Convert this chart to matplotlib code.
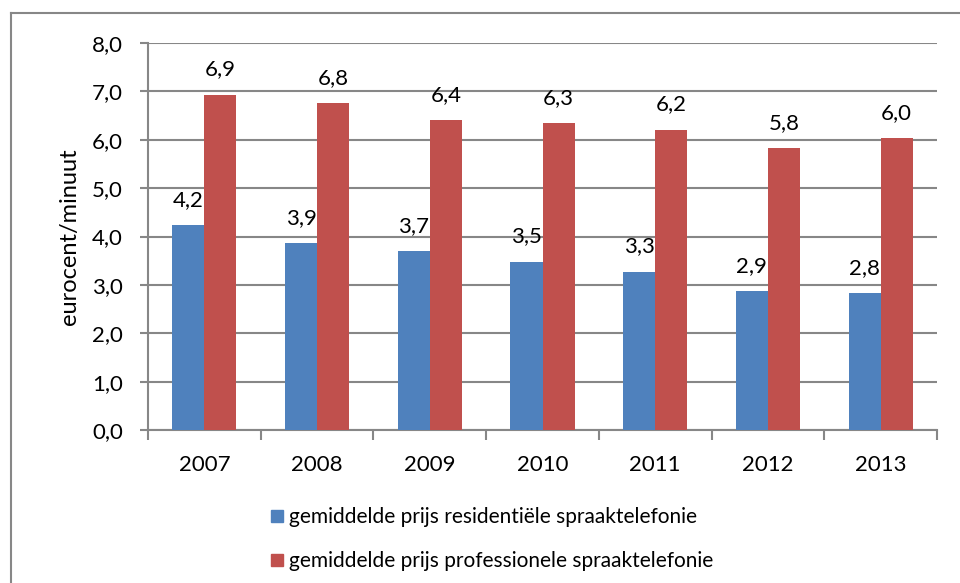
import numpy as np
import matplotlib
matplotlib.use("Agg")
import matplotlib.pyplot as plt
from matplotlib.lines import Line2D
from matplotlib.patches import Patch

plt.rcParams["font.family"] = ["Lato", "DejaVu Sans"]

years = ["2007", "2008", "2009", "2010", "2011", "2012", "2013"]
residentieel = [4.24, 3.86, 3.69, 3.48, 3.27, 2.87, 2.83]
professioneel = [6.93, 6.76, 6.41, 6.34, 6.21, 5.82, 6.03]
labels = [
    "gemiddelde prijs residentiële spraaktelefonie",
    "gemiddelde prijs professionele spraaktelefonie",
]

BLUE = "#4F81BD"
RED = "#C0504D"
GRID = "#878787"


def nl(v):
    return "{:.1f}".format(v).replace(".", ",")


fig = plt.figure(figsize=(9.6, 5.83), dpi=100)
ax = fig.add_axes([148 / 960, 1 - 430 / 583, (937 - 148) / 960, (430 - 43) / 583])

x = np.arange(len(years)) + 0.5
w = 0.284
b1 = ax.bar(x - w / 2, residentieel, w, color=BLUE, zorder=3)
b2 = ax.bar(x + w / 2, professioneel, w, color=RED, zorder=3)

for bars, vals in ((b1, residentieel), (b2, professioneel)):
    for r, v in zip(bars, vals):
        ax.annotate(nl(v), (r.get_x() + r.get_width() / 2, v),
                    xytext=(0, 11), textcoords="offset points",
                    ha="center", va="bottom", fontsize=16)

ax.set_xlim(0, len(years))
ax.set_ylim(0, 8)
ax.set_yticks(np.arange(0, 9, 1))
ax.set_yticklabels([nl(v) for v in np.arange(0, 9, 1)], fontsize=16)
ax.set_xticks(np.arange(len(years) + 1))
ax.set_xticklabels([])
ax.set_xticks(x, minor=True)
ax.set_xticklabels(years, minor=True, fontsize=16)
ax.tick_params(axis="x", which="minor", length=0, pad=18)
ax.tick_params(axis="x", which="major", length=7, color=GRID, width=1.5)
ax.tick_params(axis="y", length=6, color=GRID, width=1.5, pad=12)
ax.yaxis.grid(True, color=GRID, linewidth=1.5, zorder=0)
ax.set_axisbelow(True)
for s in ("top", "right"):
    ax.spines[s].set_visible(False)
ax.spines["left"].set_color(GRID)
ax.spines["bottom"].set_color(GRID)
ax.spines["left"].set_linewidth(1.5)
ax.spines["bottom"].set_linewidth(1.5)
ax.set_ylabel("eurocent/minuut", fontsize=17)
ax.yaxis.set_label_coords((80 - 148) / 789, 0.5)

handles = [Patch(color=BLUE), Patch(color=RED)]
fig.legend(handles, labels, loc="upper left", bbox_to_anchor=(263 / 960, 1 - 499 / 583),
           frameon=False, fontsize=15, handlelength=0.55, handleheight=0.55,
           handletextpad=0.3, labelspacing=1.15, borderaxespad=0)

# outer chart border (left and top visible)
fig.add_artist(Line2D([11 / 960, 11 / 960], [0, 1 - 13 / 583], color=GRID, linewidth=1.5))
fig.add_artist(Line2D([11 / 960, 1], [1 - 13 / 583, 1 - 13 / 583], color=GRID, linewidth=1.5))

fig.savefig("out.png", dpi=100)
